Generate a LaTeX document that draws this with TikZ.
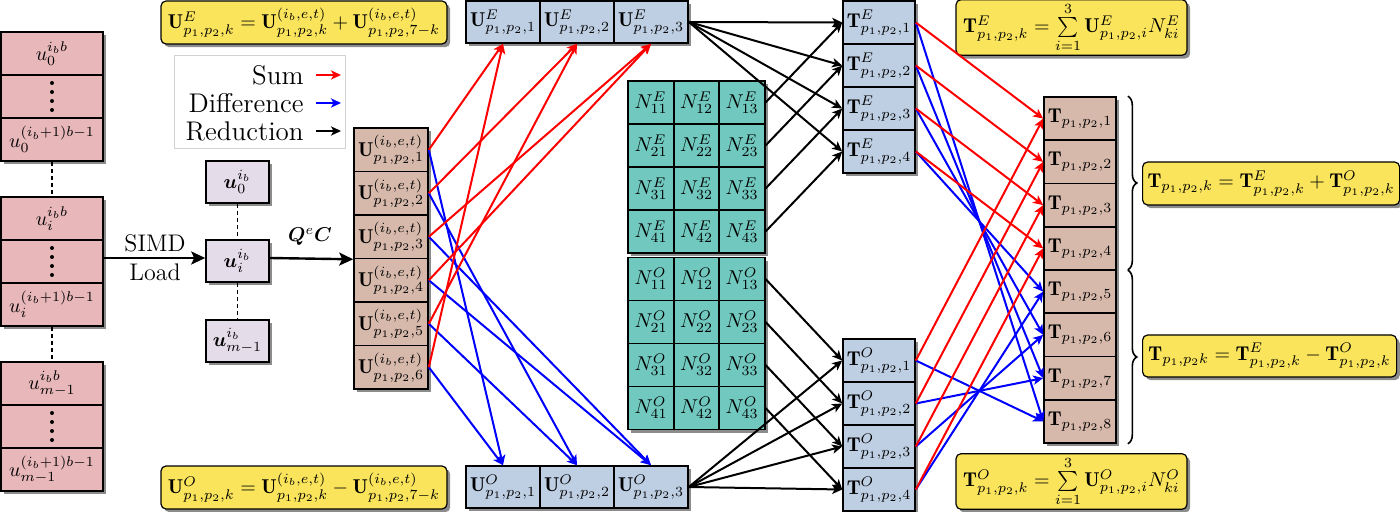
\documentclass[tikz,border=0pt]{standalone}
\usepackage{amsmath,bm}
\usepackage{fontspec}
\usetikzlibrary{arrows.meta,shadows,decorations.pathreplacing}
\definecolor{ublk}{HTML}{E8B7BA}
\definecolor{uvec}{HTML}{E5DCEA}
\definecolor{tanc}{HTML}{D6B9AB}
\definecolor{bluec}{HTML}{BFCFE3}
\definecolor{tealc}{HTML}{70C8BE}
\definecolor{yelc}{HTML}{F9E45C}
\definecolor{sumc}{HTML}{FF0000}
\definecolor{difc}{HTML}{0000FF}
\newcommand{\Ub}{\mathbf{U}}
\newcommand{\Tb}{\mathbf{T}}
\newcommand{\pxu}{0.5pt}
\begin{document}
\begin{tikzpicture}[x=0.5pt,y=-0.5pt,
  font=\normalsize,
  shad/.style={drop shadow={shadow xshift=1.6pt,shadow yshift=-1.6pt,fill=black,opacity=0.45}},
  cell/.style={draw,line width=0.8pt,inner sep=0pt,shad},
  ublkbox/.style={cell,fill=ublk,minimum width=102*\pxu,minimum height=43*\pxu},
  uvecbox/.style={cell,fill=uvec,minimum width=63*\pxu,minimum height=42*\pxu},
  ucol/.style={cell,fill=tanc,minimum width=74*\pxu,minimum height=43.5*\pxu},
  urow/.style={cell,fill=bluec,minimum width=74*\pxu,minimum height=42*\pxu},
  ncell/.style={cell,fill=tealc,minimum width=45.5*\pxu,minimum height=43*\pxu},
  tcol/.style={cell,fill=bluec,minimum width=72*\pxu,minimum height=43*\pxu},
  tfin/.style={cell,fill=tanc,minimum width=72*\pxu,minimum height=43.25*\pxu},
  formula/.style={draw,line width=0.6pt,fill=yelc,rounded corners=2.5pt,inner sep=1.5pt,shad},
  conn/.style={line width=1pt,-{Stealth[length=5pt,width=4.6pt,inset=1.3pt]}},
  sumarr/.style={conn,sumc},
  difarr/.style={conn,difc},
  redn/.style={conn,black},
  bigarr/.style={line width=1.2pt,-{Stealth[length=7pt,width=6.5pt,inset=1.5pt]}},
  vdash/.style={line width=0.6pt,dash pattern=on 2pt off 1.5pt},
  dotcol/.style={line width=2pt,dash pattern=on 0pt off 4.5pt,line cap=round},
  legtext/.style={anchor=east,inner sep=0pt,font=\fontsize{13.5}{16}\selectfont},
]
\useasboundingbox (0,0) rectangle (1400,512);

% ---- left u blocks
\node[ublkbox] (a1) at (52,53.5) {$u_0^{i_bb}$};
\node[ublkbox] (a2) at (52,96.5) {};
\node[ublkbox] (a3) at (52,139.5) {$u_0^{(i_b+1)b-1}$};
\node[ublkbox] (b1) at (52,218.5) {$u_i^{i_bb}$};
\node[ublkbox] (b2) at (52,261.5) {};
\node[ublkbox] (b3) at (52,304.5) {$u_i^{(i_b+1)b-1}$};
\node[ublkbox] (c1) at (52,383.5) {$u_{m-1}^{i_bb}$};
\node[ublkbox] (c2) at (52,426.5) {};
\node[ublkbox] (c3) at (52,469.5) {$u_{m-1}^{(i_b+1)b-1}$};
\foreach \n in {a2,b2,c2}
  \draw[dotcol] ([yshift=13.5*\pxu]\n.center) -- ([yshift=-13.8*\pxu]\n.center);
\draw[vdash] (a3.south) -- (b1.north);
\draw[vdash] (b3.south) -- (c1.north);

% ---- u vectors
\node[uvecbox] (v0) at (237.5,182) {$\bm{u}_0^{i_b}$};
\node[uvecbox] (vi) at (237.5,261) {$\bm{u}_i^{i_b}$};
\node[uvecbox] (vm) at (237.5,341) {$\bm{u}_{m-1}^{i_b}$};
\draw[vdash] (v0.south) -- (vi.north);
\draw[vdash] (vi.south) -- (vm.north);

\node[align=center,font=\large] (simd) at (155,258) {SIMD\\[0.5pt]Load};
\draw[bigarr] ([yshift=3.5*\pxu]b2.east) -- ([yshift=3*\pxu]vi.west);

% ---- U column
\foreach \k in {1,...,6}
  \node[ucol] (U\k) at (391,{149.75+43.5*(\k-1)}) {$\Ub^{(i_b,e,t)}_{p_1,p_2,\k}$};
\node (qc) at (310,237) {$\bm{Q}^e\bm{C}$};
\draw[bigarr] ([yshift=3*\pxu]vi.east) -- (U3.south west);

% ---- U^E / U^O rows
\foreach \k in {1,2,3} {
  \node[urow] (E\k) at ({503+74*(\k-1)},22) {$\Ub^E_{p_1,p_2,\k}$};
  \node[urow] (O\k) at ({503+74*(\k-1)},487) {$\Ub^O_{p_1,p_2,\k}$};
}

% ---- N matrices
\foreach \r in {1,...,4} \foreach \c in {1,2,3} {
  \node[ncell] (NE\r\c) at ({651+45.5*(\c-1)},{102.5+43*(\r-1)}) {$N^E_{\r\c}$};
}
\foreach \r in {1,...,4} \foreach \c in {1,2,3} {
  \node[ncell] (NO\r\c) at ({651+45.5*(\c-1)},{279+43*(\r-1)}) {$N^O_{\r\c}$};
}

% ---- T^E / T^O columns
\foreach \k in {1,...,4} {
  \node[tcol] (TE\k) at (879,{22.5+43*(\k-1)}) {$\Tb^E_{p_1,p_2,\k}$};
  \node[tcol] (TO\k) at (879,{360.5+43*(\k-1)}) {$\Tb^O_{p_1,p_2,\k}$};
}

% ---- final T column
\foreach \k in {1,...,8}
  \node[tfin] (T\k) at (1080,{118.625+43.25*(\k-1)}) {$\Tb_{p_1,p_2,\k}$};

% ---- formulas
\node[formula,minimum width=286*\pxu,minimum height=43*\pxu] (fUE) at (304,22.5)
  {$\Ub^E_{p_1,p_2,k} = \Ub^{(i_b,e,t)}_{p_1,p_2,k} + \Ub^{(i_b,e,t)}_{p_1,p_2,7-k}$};
\node[formula,minimum width=286*\pxu,minimum height=43*\pxu] (fUO) at (304,487.5)
  {$\Ub^O_{p_1,p_2,k} = \Ub^{(i_b,e,t)}_{p_1,p_2,k} - \Ub^{(i_b,e,t)}_{p_1,p_2,7-k}$};
\node[formula,minimum width=231*\pxu,minimum height=53*\pxu] (fTE) at (1071.5,27.5)
  {$\Tb^E_{p_1,p_2,k} = \sum\limits_{i=1}^{3} \Ub^E_{p_1,p_2,i} N^E_{ki}$};
\node[formula,minimum width=231*\pxu,minimum height=53*\pxu] (fTO) at (1071.5,481.5)
  {$\Tb^O_{p_1,p_2,k} = \sum\limits_{i=1}^{3} \Ub^O_{p_1,p_2,i} N^O_{ki}$};
\node[formula,anchor=west,minimum width=257*\pxu,minimum height=43*\pxu] (fsum) at (1142,183.5)
  {$\Tb_{p_1,p_2,k} = \Tb^E_{p_1,p_2,k} + \Tb^O_{p_1,p_2,k}$};
\node[formula,anchor=west,minimum width=254*\pxu,minimum height=42*\pxu] (fdif) at (1142,356)
  {$\Tb_{p_1,p_2k} = \Tb^E_{p_1,p_2,k} - \Tb^O_{p_1,p_2,k}$};

% ---- braces
\draw[decorate,decoration={brace,amplitude=4.5pt},line width=0.8pt]
  ([xshift=11*\pxu]T1.north east) -- ([xshift=11*\pxu,yshift=1*\pxu]T4.south east);
\draw[decorate,decoration={brace,amplitude=4.5pt},line width=0.8pt]
  ([xshift=11*\pxu,yshift=-1*\pxu]T5.north east) -- ([xshift=11*\pxu]T8.south east);

% ---- legend
\node[draw=gray!35,line width=0.5pt,fill=white,minimum width=171*\pxu,minimum height=93*\pxu] (leg) at (259.5,102.5) {};
\node[legtext] (lsum) at (304,75) {Sum};
\node[legtext] (ldif) at (304,103) {Difference};
\node[legtext] (lred) at (304,131) {Reduction};
\coordinate (ls1) at (316,75);  \coordinate (ls2) at (341,75);
\coordinate (ld1) at (316,103); \coordinate (ld2) at (341,103);
\coordinate (lr1) at (316,131); \coordinate (lr2) at (341,131);
\draw[sumarr] (ls1) -- (ls2);
\draw[difarr] (ld1) -- (ld2);
\draw[redn] (lr1) -- (lr2);

% ---- U -> U^E / U^O
\foreach \k in {1,2,3} {
  \pgfmathtruncatemacro\m{7-\k}
  \draw[difarr] (U\k.east) -- (O\k.north);
  \draw[difarr] (U\m.east) -- (O\k.north);
}
\foreach \k in {1,2,3} {
  \pgfmathtruncatemacro\m{7-\k}
  \draw[sumarr] (U\k.east) -- (E\k.south);
  \draw[sumarr] (U\m.east) -- (E\k.south);
}

% ---- reductions
\foreach \k in {1,...,4} {
  \draw[redn] (E3.east) -- (TE\k.west);
  \draw[redn] (NE\k3.east) -- (TE\k.west);
  \draw[redn] (O3.east) -- (TO\k.west);
  \draw[redn] (NO\k3.east) -- (TO\k.west);
}

% ---- T^E / T^O -> T
\foreach \k in {1,...,4} {
  \pgfmathtruncatemacro\m{9-\k}
  \draw[difarr] (TE\k.east) -- (T\m.west);
  \draw[difarr] (TO\k.east) -- (T\m.west);
}
\foreach \k in {1,...,4} {
  \draw[sumarr] (TE\k.east) -- (T\k.west);
  \draw[sumarr] (TO\k.east) -- (T\k.west);
}
\end{tikzpicture}
\end{document}
